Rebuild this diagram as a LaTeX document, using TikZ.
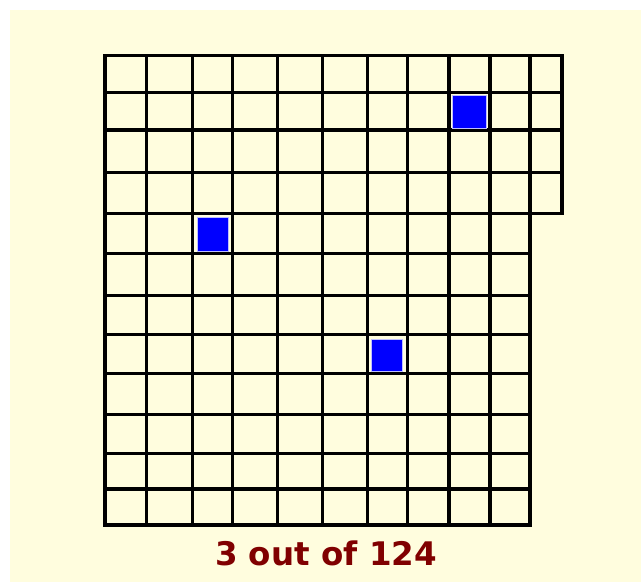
\documentclass[tikz,border=0pt]{standalone}
\usepackage{fontspec}
\setmainfont{DejaVu Sans}
\definecolor{paper}{RGB}{255,253,222}
\definecolor{cellblue}{RGB}{0,0,255}
\definecolor{capred}{RGB}{128,0,0}
\tikzset{
  gridline/.style={
    line width=3.4pt,
    line cap=rect,
    draw=black
  },
  picked/.style={
    fill=cellblue,
    draw=cellblue!25!white,
    line width=0.8pt
  },
  caption/.style={
    text=capred,
    font=\fontsize{32.5}{32.5}\selectfont\bfseries,
    anchor=base,
    inner sep=0pt
  }
}
\newcommand{\paperframe}{%
  \useasboundingbox (0,0) rectangle (641,582);
  \fill[white] (0,0) rectangle (641,582);
  \fill[paper] (10,10) rectangle (641,582);
}

\begin{document}
\begin{tikzpicture}[x=1pt, y=-1pt]
  \paperframe
  % vertical lines, full height
  \foreach \x in {105,146.7,192.3,232.7,277.3,322.3,367.3,407.7,449,490,530} {
    \draw[gridline] (\x,55.7) -- (\x,525);
  }
  \draw[gridline] (562,55.7) -- (562,213.3);
  % horizontal lines
  \foreach \y in {55.7,92.3,130,172.3,213.3} {
    \draw[gridline] (105,\y) -- (562,\y);
  }
  \foreach \y in {253.3,295.7,334.3,373.3,414.3,453.3,489,525} {
    \draw[gridline] (105,\y) -- (530,\y);
  }
  % the three chosen cells
  \foreach \x/\y/\w/\h in {452/95/34/33,197/217/31/34,371/339/31/32} {
    \filldraw[picked] (\x,\y) rectangle ++(\w,\h);
  }
  \node[caption] (count) at (326,565.7) {3 out of 124};
\end{tikzpicture}
\end{document}
